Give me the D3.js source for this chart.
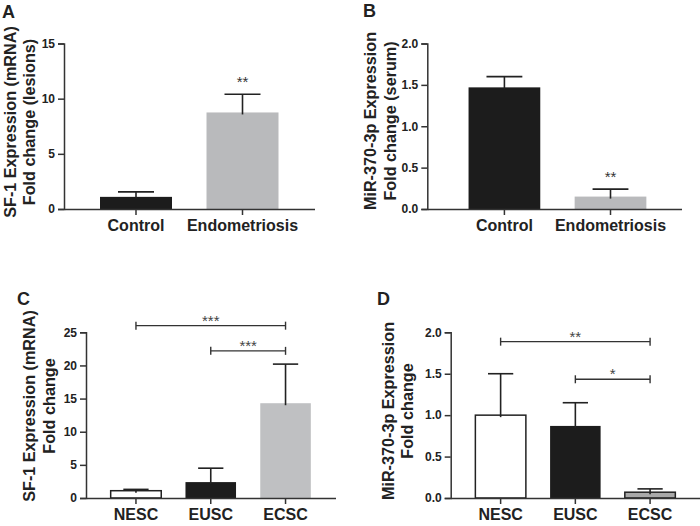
<!DOCTYPE html>
<html><head><meta charset="utf-8">
<script src="https://cdn.jsdelivr.net/npm/d3@7/dist/d3.min.js"></script>
<style>body{margin:0;background:#fff}svg{display:block}text{font-family:"Liberation Sans",Arial,sans-serif}</style>
</head><body><svg id="c" width="700" height="526"></svg>
<script>
// ---- data ----
const catsAB = ["Control", "Endometriosis"];
const catsCD = ["NESC", "EUSC", "ECSC"];
const valA = [1.1, 8.75];  const errA = [0.45, 1.65];
const valB = [1.47, 0.15]; const errB = [0.13, 0.09];
const valC = [1.1, 2.4, 14.3]; const errC = [0.2, 2.1, 5.9];
const valD = [1.0, 0.87, 0.07]; const errD = [0.5, 0.28, 0.04];
const ticksA = [0, 5, 10, 15];
const ticksB = [0, 0.5, 1.0, 1.5, 2.0];
const ticksC = [0, 5, 10, 15, 20, 25];
const ticksD = [0, 0.5, 1.0, 1.5, 2.0];
const starsA = ["", "**"]; const starsB = ["", "**"];
const bracketsC = [{from:"NESC", to:"ECSC", y:26.0, label:"***"}, {from:"EUSC", to:"ECSC", y:22.2, label:"***"}];
const bracketsD = [{from:"NESC", to:"ECSC", y:1.887, label:"**"}, {from:"EUSC", to:"ECSC", y:1.433, label:"*"}];
const ylabA = ["SF-1 Expression (mRNA)", "Fold change (lesions)"];
const ylabB = ["MiR-370-3p Expression", "Fold change (serum)"];
const ylabC = ["SF-1 Expression (mRNA)", "Fold change"];
const ylabD = ["MiR-370-3p Expression", "Fold change"];

const svg = d3.select("#c");
const ink = "#222";
const FF = '"Liberation Sans",Arial,sans-serif';

function panel(o){
  const g = svg.append("g");
  const x = d3.scaleBand().domain(o.cats).range([o.x0, o.x1]).paddingInner(0.324).paddingOuter(o.po).align(o.align);
  const y = d3.scaleLinear().domain(o.ydom).range([o.y0, o.y1]);
  g.append("text").attr("x", o.lx).attr("y", o.ly).attr("font-size", 18).attr("font-weight", "bold").attr("fill", ink).text(o.letter);
  o.ylab.forEach((t, i) => {
    g.append("text").attr("transform", `translate(${o.ylx[i]},${o.yly}) rotate(-90)`)
      .attr("text-anchor", "middle").attr("dominant-baseline", "central")
      .attr("font-size", 16.2).attr("font-weight", "bold").attr("fill", ink).text(t);
  });
  g.selectAll("rect.bar").data(o.vals).join("rect")
    .attr("x", (d, i) => x(o.cats[i])).attr("width", x.bandwidth())
    .attr("y", d => y(d)).attr("height", d => y(0) - y(d))
    .attr("fill", (d, i) => o.fills[i])
    .attr("stroke", (d, i) => o.strokes[i]).attr("stroke-width", 1.5);
  o.vals.forEach((v, i) => {
    const cx = x(o.cats[i]) + x.bandwidth() / 2, hw = x.bandwidth() / 4;
    g.append("line").attr("x1", cx).attr("x2", cx).attr("y1", y(v) + 2).attr("y2", y(v + o.errs[i])).attr("stroke", ink).attr("stroke-width", 1.6);
    g.append("line").attr("x1", cx - hw).attr("x2", cx + hw).attr("y1", y(v + o.errs[i])).attr("y2", y(v + o.errs[i])).attr("stroke", ink).attr("stroke-width", 1.6);
    if (o.stars && o.stars[i]) {
      g.append("text").attr("x", cx).attr("y", y(v + o.errs[i]) - o.starGap).attr("text-anchor", "middle")
        .attr("font-size", 15).attr("fill", "#333").text(o.stars[i]);
    }
  });
  const ya = g.append("g").attr("transform", `translate(${o.x0},0)`)
    .call(d3.axisLeft(y).tickValues(o.ticks).tickSize(6).tickPadding(3).tickFormat(o.fmt));
  ya.select(".domain").attr("stroke", "#333").attr("stroke-width", 1.5);
  ya.selectAll(".tick line").attr("stroke", "#333").attr("stroke-width", 1.5);
  ya.selectAll(".tick text").attr("font-size", 12).attr("font-weight", "bold").attr("fill", ink).attr("font-family", FF);
  const xa = g.append("g").attr("transform", `translate(0,${o.y0})`)
    .call(d3.axisBottom(x).tickSize(6).tickPadding(5).tickSizeOuter(0));
  xa.select(".domain").attr("stroke", "#333").attr("stroke-width", 1.5);
  xa.selectAll(".tick line").attr("stroke", "#333").attr("stroke-width", 1.5);
  xa.selectAll(".tick text").attr("font-size", 16).attr("font-weight", "bold").attr("fill", ink)
    .attr("font-family", FF).attr("dy", "0.7em");
  (o.brackets || []).forEach(b => {
    const xa1 = x(b.from) + x.bandwidth() / 2, xb = x(b.to) + x.bandwidth() / 2, yy = y(b.y);
    g.append("line").attr("x1", xa1).attr("x2", xb).attr("y1", yy).attr("y2", yy).attr("stroke", "#333").attr("stroke-width", 1.4);
    [xa1, xb].forEach(xx => g.append("line").attr("x1", xx).attr("x2", xx).attr("y1", yy - 4).attr("y2", yy + 4).attr("stroke", "#333").attr("stroke-width", 1.4));
    g.append("text").attr("x", (xa1 + xb) / 2).attr("y", yy).attr("text-anchor", "middle")
      .attr("font-size", 15).attr("fill", "#444").text(b.label);
  });
}

const f0 = d3.format("d"), f1 = d3.format(".1f");
panel({letter:"A", lx:2, ly:18, cats:catsAB, vals:valA, errs:errA, ticks:ticksA, fmt:f0, ydom:[0,15],
  x0:64, x1:314.5, po:0.338, align:0.5, y0:209, y1:43.5, ylab:ylabA, ylx:[9.5,29], yly:122,
  fills:["#1c1c1c","#b9babc"], strokes:["none","none"], stars:starsA, starGap:7});
panel({letter:"B", lx:363, ly:17, cats:catsAB, vals:valB, errs:errB, ticks:ticksB, fmt:f1, ydom:[0,2],
  x0:427.3, x1:681.5, po:0.36, align:0.54, y0:209, y1:43.5, ylab:ylabB, ylx:[370,390], yly:121,
  fills:["#1c1c1c","#b9babc"], strokes:["none","none"], stars:starsB, starGap:7});
panel({letter:"C", lx:17, ly:305, cats:catsCD, vals:valC, errs:errC, ticks:ticksC, fmt:f0, ydom:[0,25],
  x0:86, x1:335.5, po:0.33, align:0.5, y0:498, y1:332.3, ylab:ylabC, ylx:[28.5,48.5], yly:406,
  fills:["#ffffff","#1c1c1c","#bfc0c2"], strokes:["#222","none","none"], brackets:bracketsC});
panel({letter:"D", lx:377, ly:305, cats:catsCD, vals:valD, errs:errD, ticks:ticksD, fmt:f1, ydom:[0,2],
  x0:450.7, x1:700, po:0.33, align:0.5, y0:498, y1:332.3, ylab:ylabD, ylx:[388,407], yly:411,
  fills:["#ffffff","#1c1c1c","#a9a9a9"], strokes:["#222","none","#222"], brackets:bracketsD});
</script></body></html>
